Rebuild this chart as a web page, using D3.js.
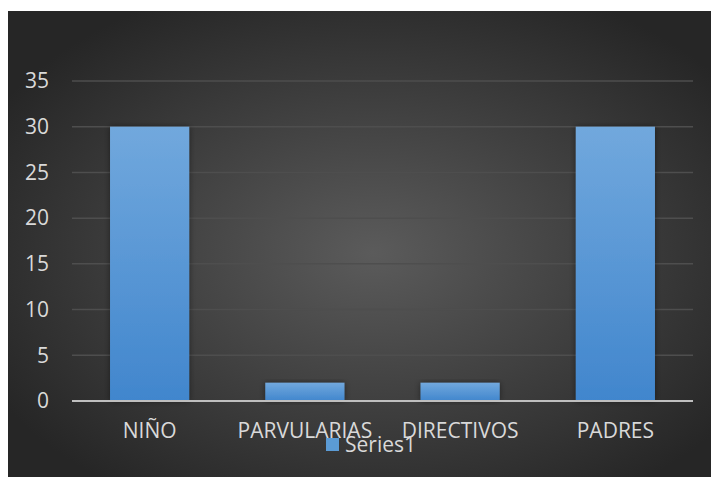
<!DOCTYPE html>
<html>
<head>
<meta charset="utf-8">
<script src="https://cdn.jsdelivr.net/npm/d3@7"></script>
<style>
  body { margin: 0; background: #fff; }
  svg { display: block; }
  text { font-family: "Open Sans", sans-serif; }
</style>
</head>
<body>
<div id="canvas"></div>
<script>
var categories = ["NIÑO", "PARVULARIAS", "DIRECTIVOS", "PADRES"];
var values = [30, 2, 2, 30];
var yTicks = [0, 5, 10, 15, 20, 25, 30, 35];
var seriesName = "Series1";

var W = 711, H = 477;
var frame = {left: 8, top: 11, right: 711, bottom: 477};
var plot = {left: 72, right: 693, top: 81, bottom: 401};

var svg = d3.select("#canvas")
  .append("svg")
  .attr("width", W)
  .attr("height", H);

var defs = svg.append("defs");

var bg = defs.append("radialGradient")
  .attr("id", "bg")
  .attr("cx", 0.52).attr("cy", 0.52).attr("r", 0.62);
bg.append("stop").attr("offset", "0%").attr("stop-color", "#5b5b5b");
bg.append("stop").attr("offset", "100%").attr("stop-color", "#262626");

var barGrad = defs.append("linearGradient")
  .attr("id", "bar")
  .attr("x1", 0).attr("y1", 0).attr("x2", 0).attr("y2", 1);
barGrad.append("stop").attr("offset", "0%").attr("stop-color", "#71a8dd");
barGrad.append("stop").attr("offset", "100%").attr("stop-color", "#4186cd");

var shadow = defs.append("filter")
  .attr("id", "shadow")
  .attr("x", "-20%").attr("y", "-20%").attr("width", "140%").attr("height", "140%");
shadow.append("feDropShadow")
  .attr("dx", 0).attr("dy", 0)
  .attr("stdDeviation", 3)
  .attr("flood-color", "#000")
  .attr("flood-opacity", 0.45);

svg.append("rect")
  .attr("x", frame.left)
  .attr("y", frame.top)
  .attr("width", frame.right - frame.left)
  .attr("height", frame.bottom - frame.top)
  .attr("fill", "url(#bg)");

var x = d3.scaleBand()
  .domain(categories)
  .range([plot.left, plot.right])
  .paddingInner(0.49)
  .paddingOuter(0.245);

var y = d3.scaleLinear()
  .domain([0, 35])
  .range([plot.bottom, plot.top]);

// gridlines
svg.append("g")
  .selectAll("line")
  .data(yTicks.filter(d => d > 0))
  .enter()
  .append("line")
  .attr("x1", plot.left)
  .attr("x2", plot.right)
  .attr("y1", d => y(d))
  .attr("y2", d => y(d))
  .attr("stroke", "#4e4e4e")
  .attr("stroke-width", 1.5);

// y axis labels
const yAxisCall = d3.axisLeft(y)
  .tickValues(yTicks)
  .tickSize(0)
  .tickPadding(23);

var yAxis = svg.append("g")
  .attr("transform", `translate(${plot.left},0)`)
  .call(yAxisCall);
yAxis.select(".domain").remove();
yAxis.selectAll("text")
  .attr("fill", "#d9d9d9")
  .style("font-size", "21px");

// bars
svg.append("g")
  .selectAll("rect")
  .data(values)
  .enter()
  .append("rect")
  .attr("x", (d, i) => x(categories[i]))
  .attr("y", d => y(d))
  .attr("width", x.bandwidth())
  .attr("height", d => y(0) - y(d))
  .attr("fill", "url(#bar)")
  .attr("filter", "url(#shadow)");

// x axis
const xAxisCall = d3.axisBottom(x)
  .tickSize(0)
  .tickPadding(22);

var xAxis = svg.append("g")
  .attr("transform", `translate(0,${plot.bottom})`)
  .call(xAxisCall);
xAxis.select(".domain")
  .attr("stroke", "#bfbfbf")
  .attr("stroke-width", 2)
  .attr("d", `M${plot.left},0H${plot.right}`);
xAxis.selectAll("text")
  .attr("fill", "#d9d9d9")
  .style("font-size", "21px");

// legend
var legend = svg.append("g")
  .attr("transform", "translate(326,438)");
legend.append("rect")
  .attr("width", 13)
  .attr("height", 13)
  .attr("fill", "#5b9bd5");
legend.append("text")
  .attr("x", 19)
  .attr("y", 14)
  .attr("fill", "#d9d9d9")
  .style("font-size", "21px")
  .text(seriesName);
</script>
</body>
</html>
